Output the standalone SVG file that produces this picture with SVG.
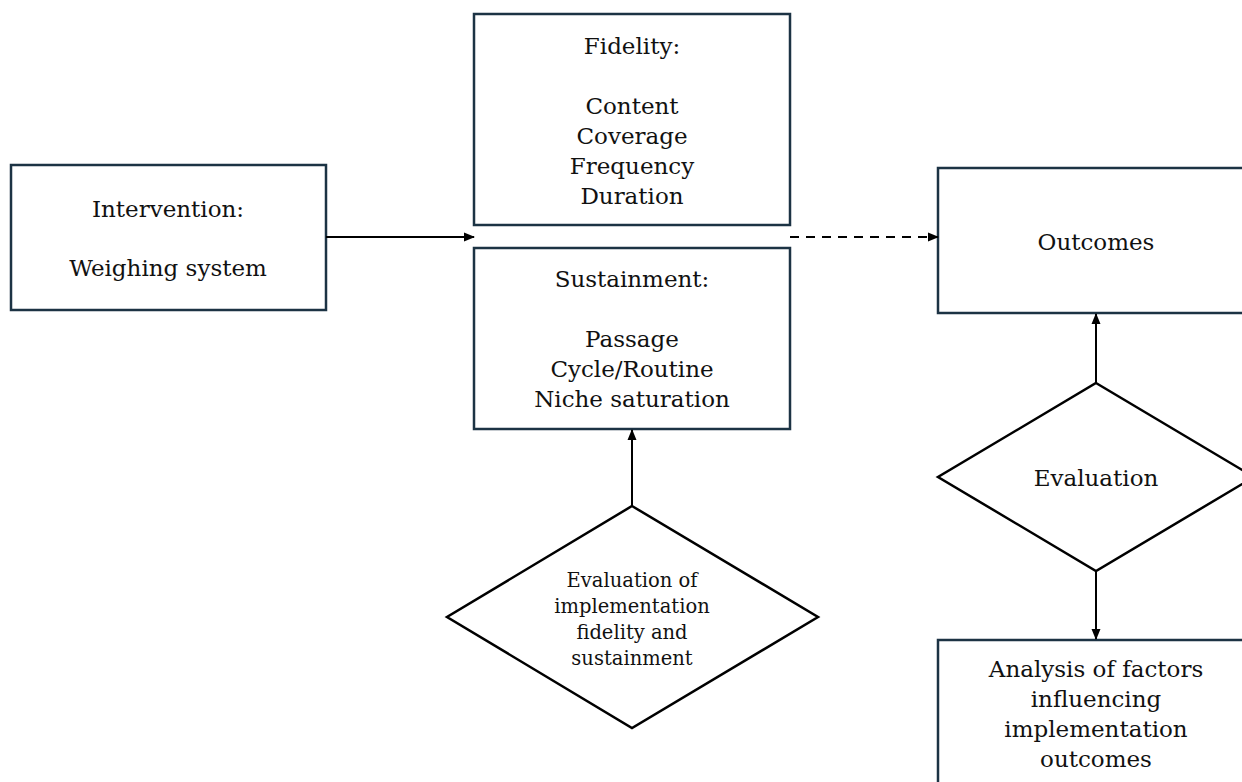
<svg xmlns="http://www.w3.org/2000/svg" width="1242" height="782" viewBox="0 0 1242 782">
<style>
.box{fill:#fff;stroke:#1c3344;stroke-width:2.5}
.dia{fill:#fff;stroke:#000;stroke-width:2.5}
.t{font-family:"DejaVu Serif","Liberation Serif",serif;font-size:23px;fill:#111;text-anchor:middle}
.s{font-size:19.5px}
.c{stroke:#000;stroke-width:2;fill:none}
.d{stroke-dasharray:9,7}
</style>
<defs>
<marker id="ah" markerWidth="11" markerHeight="10" refX="10" refY="5" orient="auto" markerUnits="userSpaceOnUse">
<path d="M0,0.5 L11,5 L0,9.5 Z" fill="#000"/>
</marker>
</defs>
<rect width="1242" height="782" fill="#fff"/>
<g id="intervention">
<rect class="box" x="11" y="165" width="315" height="145"/>
<text class="t" x="168" y="217">Intervention:</text>
<text class="t" x="168" y="276">Weighing system</text>
</g>
<g id="fidelity">
<rect class="box" x="474" y="14" width="316" height="211"/>
<text class="t" x="632" y="54">Fidelity:</text>
<text class="t" x="632" y="114">Content</text>
<text class="t" x="632" y="144">Coverage</text>
<text class="t" x="632" y="174">Frequency</text>
<text class="t" x="632" y="204">Duration</text>
</g>
<g id="sustainment">
<rect class="box" x="474" y="248" width="316" height="181"/>
<text class="t" x="632" y="287">Sustainment:</text>
<text class="t" x="632" y="347">Passage</text>
<text class="t" x="632" y="377">Cycle/Routine</text>
<text class="t" x="632" y="407">Niche saturation</text>
</g>
<g id="outcomes">
<rect class="box" x="938" y="168" width="316" height="145"/>
<text class="t" x="1096" y="250">Outcomes</text>
</g>
<g id="evaluation">
<polygon class="dia" points="1096,383 1254,477 1096,571 938,477"/>
<text class="t" x="1096" y="486">Evaluation</text>
</g>
<g id="eval-fidelity">
<polygon class="dia" points="632,506 818,617 632,728 447,617"/>
<text class="t s" x="632" y="587">Evaluation of</text>
<text class="t s" x="632" y="613">implementation</text>
<text class="t s" x="632" y="639">fidelity and</text>
<text class="t s" x="632" y="665">sustainment</text>
</g>
<g id="analysis">
<rect class="box" x="938" y="640" width="316" height="160"/>
<text class="t" x="1096" y="677">Analysis of factors</text>
<text class="t" x="1096" y="707">influencing</text>
<text class="t" x="1096" y="737">implementation</text>
<text class="t" x="1096" y="767">outcomes</text>
</g>
<g id="connectors">
<line class="c" x1="326" y1="237" x2="474" y2="237" marker-end="url(#ah)"/>
<line class="c d" x1="790" y1="237" x2="938" y2="237" marker-end="url(#ah)"/>
<line class="c" x1="632" y1="506" x2="632" y2="430" marker-end="url(#ah)"/>
<line class="c" x1="1096" y1="383" x2="1096" y2="314" marker-end="url(#ah)"/>
<line class="c" x1="1096" y1="571" x2="1096" y2="639" marker-end="url(#ah)"/>
</g>
</svg>
